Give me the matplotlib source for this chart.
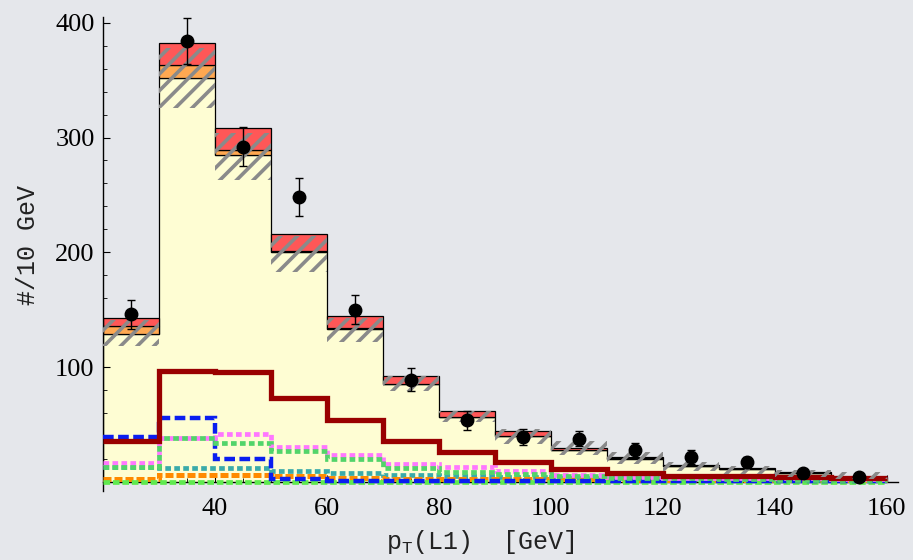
import numpy as np
import matplotlib
matplotlib.use("Agg")
import matplotlib.pyplot as plt

# binning (10 GeV bins)
edges = np.arange(20, 170, 10)
centers = edges[:-1] + 5

# stacked MC components
mc_main = [128.4, 352, 285, 200, 133.5, 85, 56.5, 40, 27.8, 20.3, 14, 11.4, 8, 3]
mc_orange = [7.4, 11, 4, 1, 0.5, 0.5, 0.3, 0.3, 0.2, 0.2, 0.1, 0.1, 0.1, 0.1]
mc_red = [6.8, 19.5, 19, 15, 10.5, 6.5, 4.5, 3.6, 1.6, 1.5, 0.5, 0.5, 0.4, 1.3]

# uncertainty band (hatched)
band_lo = [118, 326, 263, 183, 122, 79, 52, 33, 23.5, 15.5, 9.5, 7, 4, 2.5]
band_hi = [141, 378, 304, 214, 143, 92, 62, 46, 36, 26, 17, 14, 10.7, 8.6]

# single contributions (step lines)
darkred = [35.5, 96.5, 95.5, 73, 53.5, 36, 26, 17.5, 11.5, 7.8, 5.5, 4.8, 4.5, 3]
blue = [39, 55.6, 19.5, 2.4, 0.6, 0.6, 0.6, 0.6, 0.6, 0.4, 0.4, 0.4, 0.4, 0.4]
magenta = [16, 38, 42, 30, 23, 15.5, 12.5, 9, 6, 4.5, 3.5, 3, 3, 2.5]
green = [13, 38, 34, 26.5, 20, 12, 8.5, 6.5, 5, 3.5, 3, 2.5, 2, 2]
teal = [13, 11.7, 11.7, 9.6, 7.3, 5.8, 5, 4, 3.5, 3, 2.5, 2, 2, 1.5]
orange = [2.4, 6.1, 6, 4.7, 3.2, 2.5, 2.5, 2.5, 2.2, 2, 2, 1.8, 1.8, 1.8]
lime = [0.2] * 14

# data
data = [146, 384, 292, 248, 150, 89, 53.5, 39, 37.5, 27.6, 21.5, 17, 7.6, 4]
data_err = [12.5, 20, 17, 16.5, 12.5, 10, 8, 7, 6.5, 6.5, 6, 5, 4, 3]

bg = "#E5E7EB"
plt.rcParams['hatch.linewidth'] = 2.6
plt.rcParams['hatch.color'] = "#8a8a8a"

fig = plt.figure(figsize=(9.13, 5.6), dpi=100, facecolor=bg)
ax = fig.add_axes([0.1128, 0.1232, 0.8708, 0.8464], facecolor=bg)

mc_main = np.array(mc_main)
mc_orange = np.array(mc_orange)
mc_red = np.array(mc_red)
w = np.diff(edges)

ax.stairs(mc_main, edges, baseline=0, fill=True, facecolor="#FEFDD3",
          edgecolor="none", zorder=1)
ax.stairs(mc_main, edges, baseline=0, color="black", lw=0.9, zorder=2)
ax.bar(edges[:-1], mc_orange, width=w, bottom=mc_main, align="edge",
       color="#FFA851", edgecolor="black", lw=0.9, zorder=2)
ax.bar(edges[:-1], mc_red, width=w, bottom=mc_main + mc_orange, align="edge",
       color="#FF5757", edgecolor="black", lw=0.9, zorder=2)

# step lines
ax.stairs(teal, edges, baseline=None, color="#3AABAA", lw=3.4,
          linestyle=(0, (1.2, 0.7)), zorder=3)
ax.stairs(orange, edges, baseline=None, color="#FF8A00", lw=3.6,
          linestyle=(0, (1.6, 0.6)), zorder=3)
ax.stairs(lime, edges, baseline=None, color="#5FEA4F", lw=3.4,
          linestyle=(0, (1.4, 0.6)), zorder=3)
ax.stairs(blue, edges, baseline=None, color="#0A1EF0", lw=3.2,
          linestyle=(0, (2.4, 1.0)), zorder=3)
ax.stairs(magenta, edges, baseline=None, color="#FF77FF", lw=3.4,
          linestyle=(0, (1.2, 0.7)), zorder=3)
ax.stairs(green, edges, baseline=None, color="#52D46A", lw=3.4,
          linestyle=(0, (1.2, 0.7)), zorder=3)
ax.stairs(darkred, edges, baseline=None, color="#990000", lw=3.8, zorder=4)

# hatched uncertainty
ax.bar(edges[:-1], np.array(band_hi) - np.array(band_lo), width=w,
       bottom=band_lo, align="edge", facecolor="none", edgecolor="#8a8a8a",
       lw=0, hatch="//", zorder=5)

ax.errorbar(centers, data, yerr=data_err, fmt="o", color="black", ms=9,
            elinewidth=1, capsize=3, capthick=1, zorder=6)

ax.set_xlim(20, 162)
ax.set_ylim(-8, 405)
ax.spines['top'].set_visible(False)
ax.spines['right'].set_visible(False)
ax.spines['bottom'].set_position(('data', 0))
ax.spines['left'].set_linewidth(1)
ax.spines['bottom'].set_linewidth(1)

ax.set_xticks(np.arange(40, 161, 20))
ax.set_xticks(np.arange(20, 161, 5), minor=True)
ax.set_yticks([100, 200, 300, 400])
ax.set_yticks(np.arange(0, 401, 20), minor=True)
ax.tick_params(which="both", direction="in", labelsize=19)
ax.tick_params(which="major", length=5)
ax.tick_params(which="minor", length=3)
ax.tick_params(axis="x", pad=12)
ax.tick_params(axis="y", pad=6)
for lab in ax.get_xticklabels() + ax.get_yticklabels():
    lab.set_fontfamily("Liberation Serif")

ax.text(-0.094, 0.52, "#/10 GeV", transform=ax.transAxes, rotation=90,
        ha="center", va="center", fontsize=18, family="Liberation Mono",
        color="#222222")
ax.text(0.475, -0.108, r"p$_\mathregular{T}$(L1)  [GeV]", transform=ax.transAxes,
        ha="center", va="center", fontsize=18, family="Liberation Mono",
        color="#222222")

fig.savefig("out.png", dpi=100, facecolor=bg)
